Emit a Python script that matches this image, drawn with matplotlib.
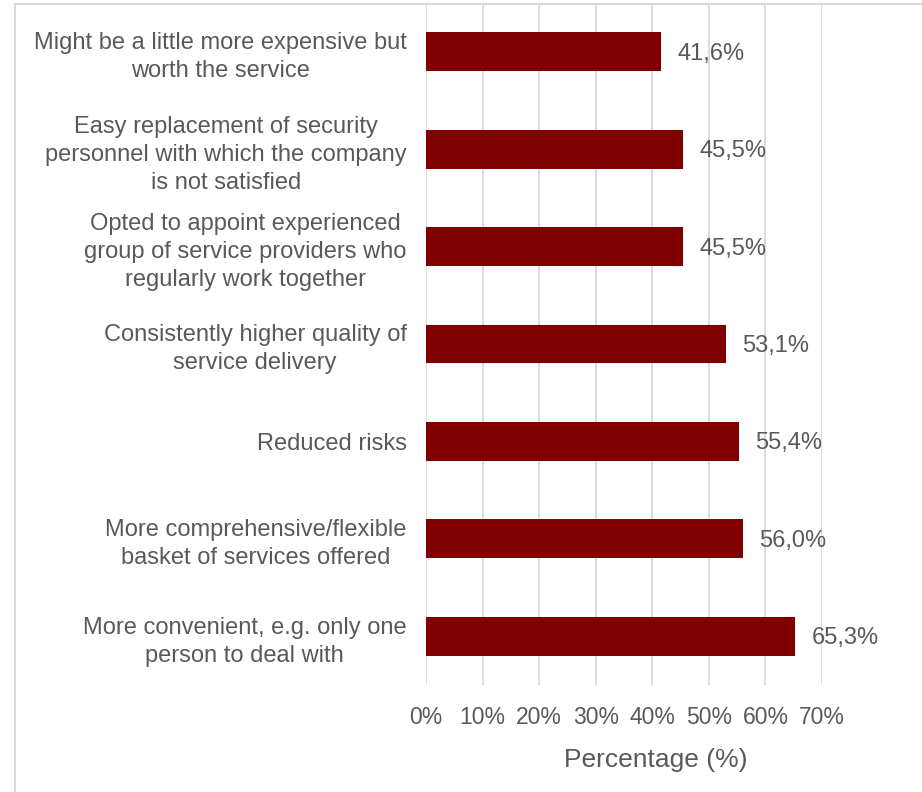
import matplotlib.pyplot as plt
from matplotlib.lines import Line2D

categories = [
    "Might be a little more expensive but\nworth the service",
    "Easy replacement of security\npersonnel with which the company\nis not satisfied",
    "Opted to appoint experienced\ngroup of service providers who\nregularly work together",
    "Consistently higher quality of\nservice delivery",
    "Reduced risks",
    "More comprehensive/flexible\nbasket of services offered",
    "More convenient, e.g. only one\nperson to deal with",
]
values = [41.6, 45.5, 45.5, 53.1, 55.4, 56.0, 65.3]
xticks = [0, 10, 20, 30, 40, 50, 60, 70]

text_color = '#595959'
bar_color = '#800000'
grid_color = '#d9d9d9'

plt.rcParams['font.family'] = ['Liberation Sans', 'DejaVu Sans']

W, H = 922, 792
fig = plt.figure(figsize=(W / 100, H / 100), dpi=100)
ax = fig.add_axes([426 / W, 1 - 685 / H, (822 - 426) / W, (685 - 3) / H])

ypos = list(range(len(categories)))
ax.barh(ypos, values, height=0.4, color=bar_color, zorder=3)
ax.set_ylim(len(categories) - 0.5, -0.5)
ax.set_xlim(0, 70)

for y, v in zip(ypos, values):
    ax.text(v + 2.8, y + 0.02, f"{v:.1f}%".replace('.', ','), va='center', ha='left',
            fontsize=17, color=text_color, zorder=4)

ax.set_yticks(ypos)
ax.set_yticklabels(categories, fontsize=17, color=text_color)
for lab in ax.get_yticklabels():
    lab.set_multialignment('center')
    lab.set_linespacing(1.35)
ax.tick_params(axis='y', length=0, pad=14)

ax.set_xticks(xticks)
ax.set_xticklabels([f"{t}%" for t in xticks], fontsize=16.5, color=text_color)
ax.tick_params(axis='x', length=0, pad=15)

ax.grid(axis='x', color=grid_color, linewidth=1.3, zorder=0)
for s in ax.spines.values():
    s.set_visible(False)

fig.text(656 / W, 1 - 760 / H, "Percentage (%)", ha='center', va='center',
         fontsize=19, color=text_color)

# light chart border (left and top edges visible)
fig.add_artist(Line2D([15 / W, 15 / W], [0, 1 - 3.5 / H], transform=fig.transFigure,
                      color=grid_color, linewidth=1.5))
fig.add_artist(Line2D([14.5 / W, 1], [1 - 3.5 / H, 1 - 3.5 / H], transform=fig.transFigure,
                      color=grid_color, linewidth=1.5))

fig.savefig('out.png', dpi=100)
